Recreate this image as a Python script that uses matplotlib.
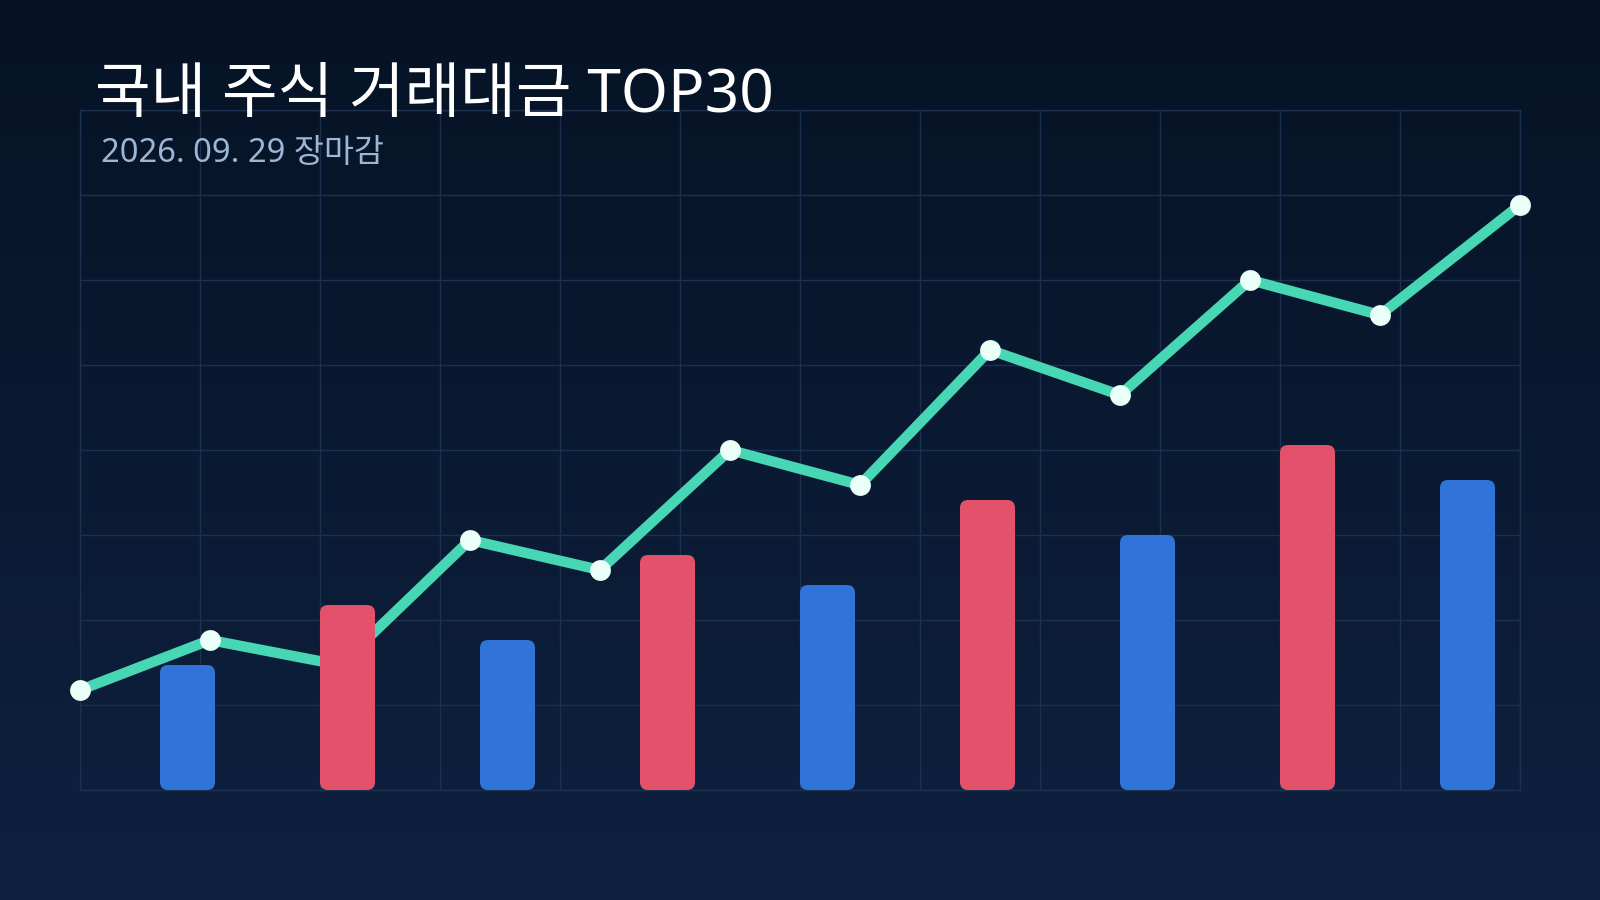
import numpy as np
import matplotlib
matplotlib.use("Agg")
import matplotlib.pyplot as plt
from matplotlib.patches import FancyBboxPatch
from matplotlib.colors import LinearSegmentedColormap

plt.rcParams['font.family'] = ['Noto Sans', 'Noto Sans CJK KR', 'DejaVu Sans']

# data
title = "국내 주식 거래대금 TOP30"
subtitle = "2026. 09. 29 장마감"

line_x = [0, 130, 260, 390, 520, 650, 780, 910, 1040, 1170, 1300, 1440]
line_vals = [20, 30, 25, 50, 44, 68, 61, 88, 79, 102, 95, 117]

bar_x = [80, 240, 400, 560, 720, 880, 1040, 1200, 1360]
bar_vals = [25, 37, 30, 47, 41, 58, 51, 69, 62]
bar_colors = ['#3074D9', '#E3516B', '#3074D9', '#E3516B', '#3074D9',
              '#E3516B', '#3074D9', '#E3516B', '#3074D9']
bar_w = 55

fig = plt.figure(figsize=(16, 9), dpi=100)

# gradient background
bg = fig.add_axes([0, 0, 1, 1], zorder=0)
cmap = LinearSegmentedColormap.from_list('bg', ['#061325', '#0F2140'])
bg.imshow(np.linspace(0, 1, 256).reshape(-1, 1), aspect='auto', cmap=cmap,
          extent=[0, 1, 0, 1])
bg.axis('off')

ax = fig.add_axes([0.05, 0.1222, 0.9, 0.7556], zorder=1)
ax.set_facecolor('none')
ax.set_xlim(0, 1440)
ax.set_ylim(0, 136)
ax.set_xticks(np.arange(0, 1441, 120))
ax.set_yticks(np.arange(0, 137, 17))
ax.grid(True, color='#1A3150', linewidth=1)
ax.tick_params(length=0, labelbottom=False, labelleft=False)
for s in ax.spines.values():
    s.set_color('#1A3150')
    s.set_linewidth(1)

ax.plot(line_x, line_vals, color='#47D7B5', linewidth=7.5, zorder=3,
        clip_on=False)
ax.plot(line_x, line_vals, 'o', color='#E9FFF8', markersize=15,
        markeredgewidth=0, zorder=4, clip_on=False)

# rounded bars, on top of the line
for x, v, c in zip(bar_x, bar_vals, bar_colors):
    p = FancyBboxPatch((x, 0), bar_w, v, boxstyle="round,pad=0,rounding_size=8",
                       mutation_aspect=0.2, facecolor=c, edgecolor='none',
                       zorder=5)
    ax.add_patch(p)

fig.text(95 / 1600, 1 - 112 / 900, title, color='white', fontsize=43.5,
         ha='left', va='baseline')
fig.text(101 / 1600, 1 - 162 / 900, subtitle, color='#9DB6D6', fontsize=23.5,
         ha='left', va='baseline')

fig.savefig('out.png', dpi=100)
